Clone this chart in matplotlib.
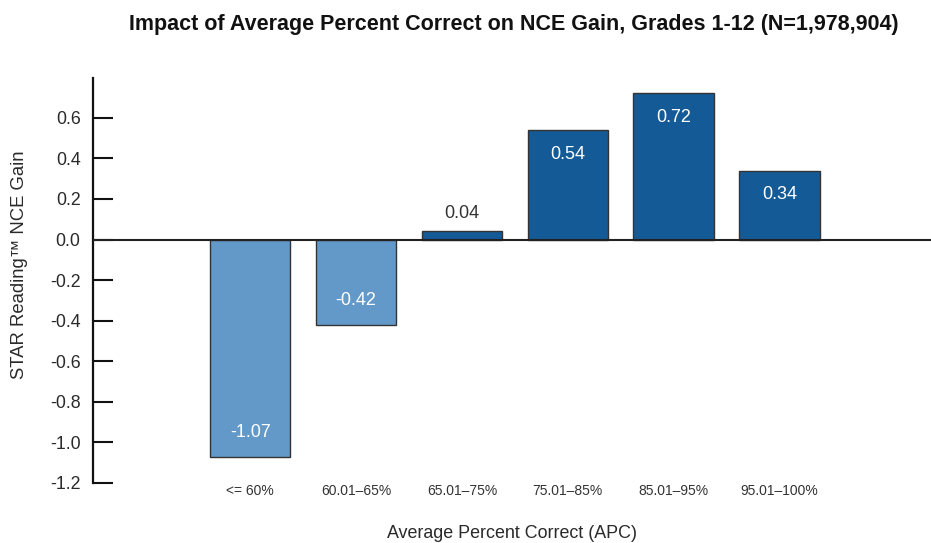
import matplotlib
matplotlib.use("Agg")
import matplotlib.pyplot as plt

categories = ["<= 60%", "60.01\u201365%", "65.01\u201375%", "75.01\u201385%", "85.01\u201395%", "95.01\u2013100%"]
values = [-1.07, -0.42, 0.04, 0.54, 0.72, 0.34]
value_labels = ["-1.07", "-0.42", "0.04", "0.54", "0.72", "0.34"]
yticks = [-1.2, -1.0, -0.8, -0.6, -0.4, -0.2, 0.0, 0.2, 0.4, 0.6]

plt.rcParams['font.family'] = ['Liberation Sans', 'DejaVu Sans']

light = "#6399C9"
dark = "#145A96"
txt = "#2a2a2a"

fig = plt.figure(figsize=(9.31, 5.43), dpi=100)
ax = fig.add_axes([0.0999, 0.1105, 0.9, 0.7455])

x = list(range(len(categories)))
colors = [light if v < 0 else dark for v in values]
ax.bar(x, values, width=0.76, color=colors, edgecolor="#333333", linewidth=1.0, zorder=2)

ax.axhline(0, color="#222222", linewidth=1.5, zorder=3)

for xi, v, lab in zip(x, values, value_labels):
    if v >= 0.2:
        ax.annotate(lab, (xi, v), xytext=(0, -17.5), textcoords="offset points",
                    ha="center", va="center", color="white", fontsize=13)
    elif v >= 0:
        ax.annotate(lab, (xi, v), xytext=(0, 13), textcoords="offset points",
                    ha="center", va="center", color="#333333", fontsize=13)
    else:
        ax.annotate(lab, (xi, v), xytext=(0, 17.5), textcoords="offset points",
                    ha="center", va="center", color="white", fontsize=13)

ax.set_xlim(-1.485, 6.43)
ax.set_ylim(-1.2, 0.795)
ax.set_yticks(yticks)
ax.set_yticklabels([f"{t:.1f}" for t in yticks], fontsize=12.8, color=txt)
ax.set_xticks(x)
ax.set_xticklabels(categories, fontsize=10, color="#333333")

for s in ["top", "right", "bottom"]:
    ax.spines[s].set_visible(False)
ax.spines["left"].set_linewidth(1.6)
ax.spines["left"].set_color("#111111")

ax.tick_params(axis="y", direction="in", length=14.5, width=1.5, pad=9, color="#111111")
ax.tick_params(axis="x", length=0, pad=1)

ax.set_xlabel("Average Percent Correct (APC)", fontsize=12.9, color=txt)
ax.xaxis.set_label_coords(0.5, -0.104)
ax.set_ylabel("STAR Reading\u2122 NCE Gain", fontsize=13.3, color=txt)
ax.yaxis.set_label_coords(-0.077, 0.538)

fig.text(0.552, 0.955, "Impact of Average Percent Correct on NCE Gain, Grades 1-12 (N=1,978,904)",
         ha="center", va="center", fontsize=15.5, fontweight="bold", color="#111111")

fig.savefig("out.png", dpi=100)
